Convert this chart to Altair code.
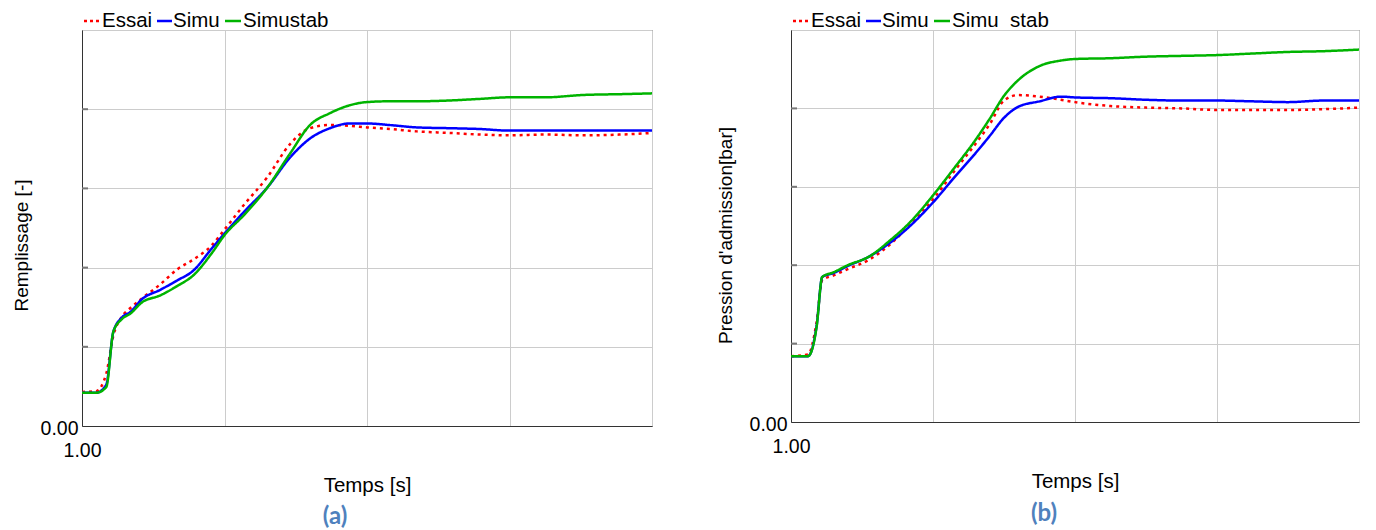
import altair as alt
import pandas as pd

# ---------------- data ----------------
x_ticks = [1, 2, 3, 4, 5]
y_ticks = [0, 1, 2, 3, 4, 5]

t_a = [1.00, 1.10, 1.17, 1.22, 1.28, 1.34, 1.42, 1.55, 1.67, 1.78, 1.91, 2.00, 2.14, 2.30,
       2.46, 2.60, 2.74, 2.88, 3.00, 3.16, 3.35, 3.58, 3.79, 4.00, 4.25, 4.52, 4.78, 5.00]
essai_a = [0.43, 0.44, 0.66, 1.14, 1.38, 1.49, 1.61, 1.79, 1.98, 2.10, 2.28, 2.48, 2.80, 3.14,
           3.56, 3.76, 3.80, 3.79, 3.77, 3.75, 3.72, 3.70, 3.68, 3.67, 3.68, 3.67, 3.68, 3.70]
simu_a = [0.42, 0.42, 0.52, 1.19, 1.37, 1.44, 1.60, 1.72, 1.84, 1.96, 2.24, 2.43, 2.71, 3.01,
          3.39, 3.63, 3.76, 3.82, 3.82, 3.80, 3.77, 3.76, 3.75, 3.73, 3.73, 3.73, 3.73, 3.73]
simustab_a = [0.42, 0.42, 0.49, 1.19, 1.35, 1.42, 1.56, 1.65, 1.77, 1.90, 2.18, 2.41, 2.67, 3.01,
              3.44, 3.80, 3.95, 4.05, 4.09, 4.10, 4.10, 4.11, 4.13, 4.15, 4.15, 4.18, 4.19, 4.20]

t_b = [1.00, 1.12, 1.18, 1.22, 1.30, 1.40, 1.55, 1.70, 1.85, 2.00, 2.15, 2.30, 2.40,
       2.50, 2.60, 2.75, 2.90, 3.00, 3.25, 3.50, 3.75, 4.00, 4.25, 4.50, 4.75, 5.00]
essai_b = [0.84, 0.86, 1.27, 1.81, 1.87, 1.95, 2.07, 2.27, 2.54, 2.84, 3.20, 3.55, 3.80,
           4.10, 4.17, 4.15, 4.11, 4.08, 4.03, 4.01, 4.00, 3.98, 3.98, 3.98, 3.99, 4.01]
simu_b = [0.84, 0.84, 1.22, 1.85, 1.90, 1.99, 2.11, 2.29, 2.52, 2.80, 3.12, 3.43, 3.65,
          3.88, 4.02, 4.09, 4.15, 4.14, 4.13, 4.11, 4.10, 4.10, 4.09, 4.08, 4.10, 4.10]
simustab_b = [0.84, 0.84, 1.21, 1.85, 1.91, 2.00, 2.11, 2.32, 2.57, 2.89, 3.24, 3.60, 3.87,
              4.16, 4.36, 4.54, 4.61, 4.63, 4.64, 4.66, 4.67, 4.68, 4.70, 4.72, 4.73, 4.75]

series_keys = ["Essai", "Simu", "Simustab"]
labels_a = ["Essai", "Simu", "Simustab"]
labels_b = ["Essai", "Simu", "Simu\u00a0\u00a0stab"]
colors = ["#ff0000", "#0000ff", "#00b400"]
dashes = [[3, 4], [1, 0], [1, 0]]

FONT = "Liberation Sans"


def legend_item(x1, x2, y, color, dash):
    return alt.Chart(pd.DataFrame({"k": [0]})).mark_rule(
        color=color, strokeWidth=2.5, strokeDash=dash, strokeCap="butt"
    ).encode(x=alt.value(x1), x2=alt.value(x2), y=alt.value(y))


def legend_text(x, y, label):
    return alt.Chart(pd.DataFrame({"k": [0]})).mark_text(
        text=label, align="left", baseline="middle", font=FONT, fontSize=20.5, color="black"
    ).encode(x=alt.value(x), y=alt.value(y))


def make_panel(t, values, labels, ytitle, letter, width, height, ytitle_x, ytitle_y, leg_y,
               letter_dy):
    rows = []
    for key, vals in zip(series_keys, values):
        for ti, vi in zip(t, vals):
            rows.append({"t": ti, "v": vi, "series": key})
    df = pd.DataFrame(rows)

    xs = alt.Scale(domain=[1, 5], nice=False, zero=False)
    ys = alt.Scale(domain=[0, 5], nice=False)

    x_axis = alt.Axis(
        values=x_ticks, grid=True, gridColor="#cccccc", gridWidth=1,
        ticks=False, tickSize=0, labelFlush=False,
        labelExpr="datum.value == 1 ? '1.00' : ''",
        labelFont=FONT, labelFontSize=19.5, labelColor="black", labelPadding=15,
        labelOverlap=False,
        domainColor="#333333", domainWidth=1,
        title="Temps [s]", titleFont=FONT, titleFontSize=20.5, titleFontWeight="normal",
        titleColor="black", titleY=59, titleBaseline="middle",
    )
    y_axis = alt.Axis(
        values=y_ticks, grid=True, gridColor="#cccccc", gridWidth=1,
        ticks=False, tickSize=0, labelFlush=False,
        labelExpr="datum.value == 0 ? '0.00' : ''",
        labelFont=FONT, labelFontSize=19.5, labelColor="black", labelPadding=4,
        labelBaseline="middle", labelOffset=2, labelOverlap=False,
        domainColor="#333333", domainWidth=1,
        title=ytitle, titleFont=FONT, titleFontSize=19, titleFontWeight="normal",
        titleColor="black", titleX=ytitle_x, titleY=ytitle_y, titleBaseline="middle",
    )

    lines = alt.Chart(df).mark_line(strokeWidth=2.5, strokeCap="butt",
                                    interpolate="monotone").encode(
        x=alt.X("t:Q", scale=xs, axis=x_axis),
        y=alt.Y("v:Q", scale=ys, axis=y_axis),
        color=alt.Color("series:N", scale=alt.Scale(domain=series_keys, range=colors), legend=None),
        strokeDash=alt.StrokeDash("series:N", scale=alt.Scale(domain=series_keys, range=dashes), legend=None),
        order=alt.Order("t:Q"),
    )

    ticks = alt.Chart(pd.DataFrame({"v": y_ticks[1:-1]})).mark_rule(
        color="#777777", strokeWidth=2
    ).encode(y=alt.Y("v:Q", scale=ys, axis=y_axis), x=alt.value(0), x2=alt.value(6))

    leg = [
        legend_item(2, 18, leg_y, colors[0], [3, 3]),
        legend_text(20, leg_y, labels[0]),
        legend_item(75, 90, leg_y, colors[1], [1, 0]),
        legend_text(91, leg_y, labels[1]),
        legend_item(143, 159, leg_y, colors[2], [1, 0]),
        legend_text(161, leg_y, labels[2]),
    ]

    letter_mark = alt.Chart(pd.DataFrame({"k": [0]})).mark_text(
        text=letter, align="center", baseline="middle", font="Lato", fontWeight="bold",
        fontSize=24, color="#4F81BD"
    ).encode(x=alt.value(253), y=alt.value(height + letter_dy))

    return alt.layer(lines, ticks, *leg, letter_mark).properties(width=width, height=height)


panel_a = make_panel(t_a, [essai_a, simu_a, simustab_a], labels_a, "Remplissage [-]", "(a)",
                     570, 396, -61, 215, -9, 91)
panel_b = make_panel(t_b, [essai_b, simu_b, simustab_b], labels_b, "Pression d'admission[bar]", "(b)",
                     568, 392, -66, 205, -9, 92)

chart = alt.hconcat(panel_a, panel_b, spacing=57).properties(
    padding={"left": 3, "top": 2, "right": 0, "bottom": 0}
).configure_view(stroke="#444444", strokeWidth=1)

chart.save("out.html", embed_options={"renderer": "svg", "actions": False})
